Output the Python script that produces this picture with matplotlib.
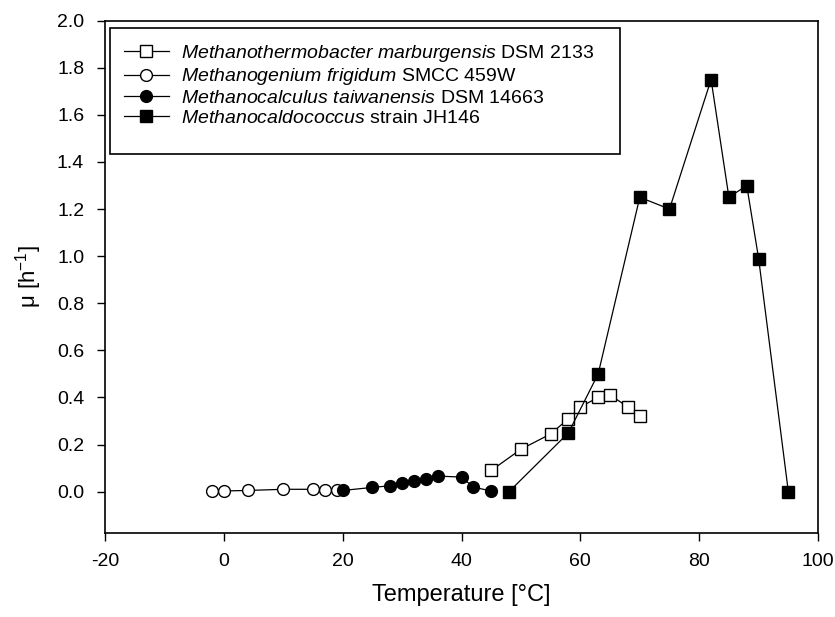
import matplotlib
matplotlib.use('Agg')
import matplotlib.pyplot as plt
from matplotlib.patches import Rectangle

plt.rcParams['font.family'] = ['Liberation Sans', 'DejaVu Sans']
plt.rcParams['mathtext.fontset'] = 'custom'
plt.rcParams['mathtext.rm'] = 'Liberation Sans'
plt.rcParams['mathtext.it'] = 'Liberation Sans:italic'
plt.rcParams['mathtext.bf'] = 'Liberation Sans:bold'
plt.rcParams['axes.unicode_minus'] = False

# M. marburgensis DSM 2133 (open squares)
marb_t = [45, 50, 55, 58, 60, 63, 65, 68, 70]
marb_mu = [0.09, 0.18, 0.245, 0.31, 0.36, 0.40, 0.41, 0.36, 0.32]

# M. frigidum SMCC 459W (open circles)
frig_t = [-2, 0, 4, 10, 15, 17, 19]
frig_mu = [0.002, 0.003, 0.005, 0.01, 0.01, 0.008, 0.005]

# M. taiwanensis DSM 14663 (filled circles)
taiw_t = [20, 25, 28, 30, 32, 34, 36, 40, 42, 45]
taiw_mu = [0.005, 0.018, 0.025, 0.037, 0.046, 0.055, 0.066, 0.062, 0.019, 0.003]

# Methanocaldococcus strain JH146 (filled squares)
jh_t = [48, 58, 63, 70, 75, 82, 85, 88, 90, 95]
jh_mu = [0.0, 0.25, 0.50, 1.25, 1.20, 1.75, 1.25, 1.30, 0.99, 0.0]

fig = plt.figure(figsize=(8.35, 6.17), dpi=100)
ax = fig.add_axes([0.1257, 0.1356, 0.854, 0.8309])

kw = dict(color='black', linewidth=0.9, markersize=8.5, markeredgewidth=1.0,
          markeredgecolor='black')
ax.plot(marb_t, marb_mu, marker='s', markerfacecolor='white',
        label='$\\it{Methanothermobacter\\ marburgensis}$ DSM 2133', **kw)
ax.plot(frig_t, frig_mu, marker='o', markerfacecolor='white',
        label='$\\it{Methanogenium\\ frigidum}$ SMCC 459W', **kw)
ax.plot(taiw_t, taiw_mu, marker='o', markerfacecolor='black',
        label='$\\it{Methanocalculus\\ taiwanensis}$ DSM 14663', **kw)
ax.plot(jh_t, jh_mu, marker='s', markerfacecolor='black',
        label='$\\it{Methanocaldococcus}$ strain JH146', **kw)

ax.set_xlim(-20, 100)
ax.set_ylim(-0.177, 2.0)
ax.set_xticks(range(-20, 101, 20))
ax.set_yticks([i / 10 for i in range(0, 21, 2)])
ax.set_yticklabels([f'{i / 10:.1f}' for i in range(0, 21, 2)])

for s in ax.spines.values():
    s.set_linewidth(1.2)
ax.tick_params(axis='both', direction='out', length=6, width=1.0,
               labelsize=14, top=False, right=False)
ax.tick_params(axis='x', pad=8)
ax.tick_params(axis='y', pad=9)

ax.set_xlabel('Temperature [°C]', fontsize=17, labelpad=10)
ax.set_ylabel('μ [h$^{\\mathrm{-1}}$]', fontsize=16, labelpad=9)

# legend box is taller than its rows, so frame drawn separately
ax.add_patch(Rectangle((0.007, 0.740), 0.7153, 0.2458, transform=ax.transAxes,
                       facecolor='white', edgecolor='black', linewidth=1.2,
                       zorder=4))
leg = ax.legend(loc='upper left', bbox_to_anchor=(0.0266, 0.956),
                borderaxespad=0, borderpad=0, fontsize=14, frameon=False,
                handlelength=2.3, handletextpad=0.65, labelspacing=0.11)
leg.set_zorder(5)

fig.savefig('out.png', dpi=100)
